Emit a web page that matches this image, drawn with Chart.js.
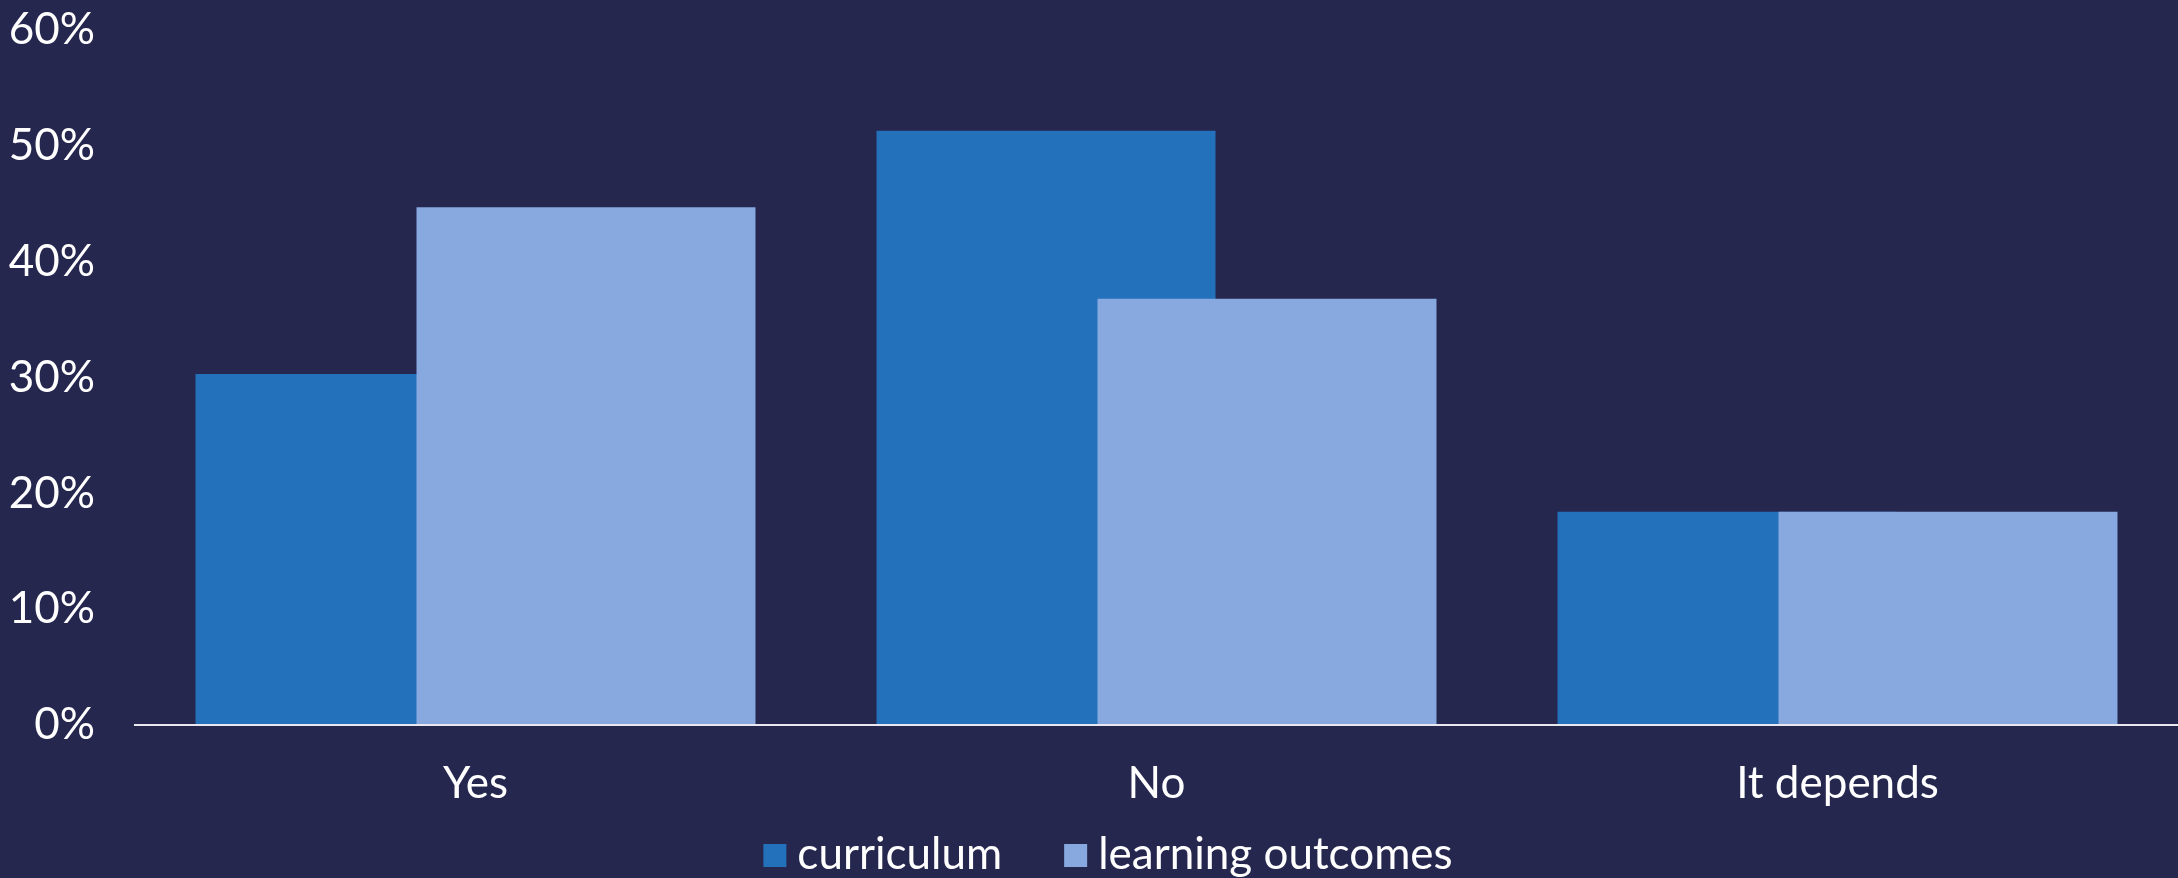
<!DOCTYPE html>
<html>
<head>
<meta charset="utf-8">
<script src="https://cdn.jsdelivr.net/npm/chart.js@4.4.0/dist/chart.umd.min.js"></script>
<style>
  html, body { margin: 0; padding: 0; background: #25274F; overflow: hidden; }
  #wrap { width: 2178px; height: 878px; position: relative; }
  canvas { display: block; }
</style>
</head>
<body>
<div id="wrap"><canvas id="c" width="2178" height="878"></canvas></div>
<script>
// ---- data ----
const categories = ['Yes', 'No', 'It depends'];
const seriesNames = ['curriculum', 'learning outcomes'];
const curriculumValues = [30.3, 51.3, 18.4];
const learningOutcomesValues = [44.7, 36.8, 18.4];
const yTickValues = [0, 10, 20, 30, 40, 50, 60];

// ---- style ----
const FONT = 'Lato';
const TEXT = '#FFFFFF';
const COLORS = ['#2471BB', '#87A9DF'];

// draw curriculum first, learning outcomes on top (overlapping bars)
const drawOrderPlugin = {
  id: 'drawOrder',
  beforeDatasetsDraw(chart) {
    chart.data.datasets.forEach((d, i) => {
      const meta = chart.getDatasetMeta(i);
      if (meta.visible !== false) meta.controller.draw();
    });
    return false;
  }
};

// legend drawn at bottom (box + text), centered
const legendPlugin = {
  id: 'bottomLegend',
  afterDraw(chart) {
    const ctx = chart.ctx;
    ctx.save();
    ctx.font = '44px ' + FONT;
    ctx.textBaseline = 'alphabetic';
    ctx.textAlign = 'left';
    const box = 23, gap = 11, itemGap = 62;
    const items = chart.data.datasets.map(d => ({ text: d.label, color: d.backgroundColor, w: ctx.measureText(d.label).width }));
    let total = 0;
    items.forEach((it, i) => { total += box + gap + it.w + (i < items.length - 1 ? itemGap : 0); });
    let x = 1108 - total / 2;
    const baseline = 869, boxTop = 844;
    items.forEach(it => {
      ctx.fillStyle = it.color;
      ctx.fillRect(x, boxTop, box, box);
      x += box + gap;
      ctx.fillStyle = TEXT;
      ctx.fillText(it.text, x, baseline);
      x += it.w + itemGap;
    });
    ctx.restore();
  }
};

new Chart(document.getElementById('c'), {
  type: 'bar',
  data: {
    labels: categories,
    datasets: [
      { label: seriesNames[0], data: curriculumValues, backgroundColor: COLORS[0], borderWidth: 0 },
      { label: seriesNames[1], data: learningOutcomesValues, backgroundColor: COLORS[1], borderWidth: 0 }
    ]
  },
  options: {
    responsive: false,
    animation: false,
    devicePixelRatio: 1,
    datasets: { bar: { categoryPercentage: 0.649, barPercentage: 1.534 } },
    layout: { padding: { top: 30, right: 0, bottom: 0, left: 0 } },
    plugins: { legend: { display: false }, tooltip: { enabled: false } },
    scales: {
      x: {
        grid: { display: false, drawTicks: false },
        border: { display: true, color: '#E8E8EE', width: 2, z: 1 },
        ticks: { color: TEXT, font: { family: FONT, size: 44 }, padding: 32 },
        afterFit(s) { s.height = 153; s.paddingLeft = 0; s.paddingRight = 0; }
      },
      y: {
        min: 0, max: 60,
        afterBuildTicks(s) { s.ticks = yTickValues.map(v => ({ value: v })); },
        grid: { display: false, drawTicks: false },
        border: { display: false },
        ticks: { color: TEXT, font: { family: FONT, size: 44 }, padding: 40, callback: v => v + '%' },
        afterFit(s) { s.width = 135; s.paddingTop = 0; s.paddingBottom = 0; }
      }
    }
  },
  plugins: [drawOrderPlugin, legendPlugin]
});
</script>
</body>
</html>
